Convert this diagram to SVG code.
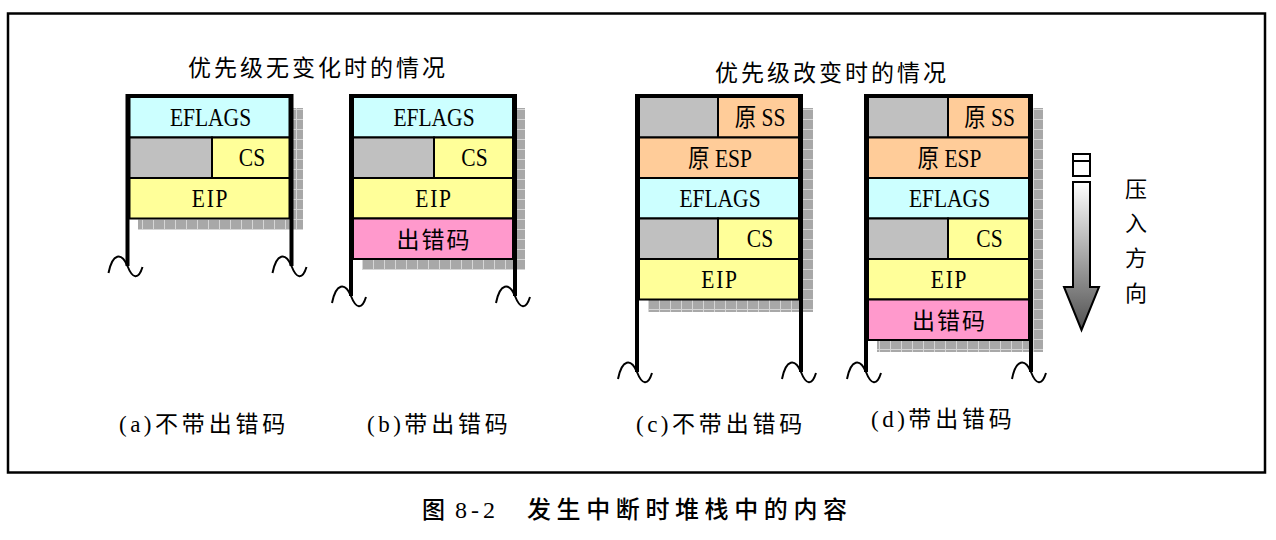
<svg xmlns="http://www.w3.org/2000/svg" width="1276" height="540" viewBox="0 0 1276 540">
<defs>
<pattern id="sh" width="11" height="10" patternUnits="userSpaceOnUse">
<rect width="11" height="10" fill="#A8A8A8"/>
<path d="M10.5,0V10M0,9.5H11" stroke="#D6D6D6" stroke-width="1"/>
</pattern>
<linearGradient id="ag" x1="0" y1="0" x2="0" y2="1">
<stop offset="0" stop-color="#FFFFFF"/>
<stop offset="1" stop-color="#505050"/>
</linearGradient>
<path id="wave" d="M-19,7 C-15,-13 -6,-14 0,0 C5,13 11,14 15,1" fill="none" stroke="#000" stroke-width="2"/>
<style>
.cell{stroke:#000;stroke-width:2}
.cy{fill:#CCFFFF}.yl{fill:#FFFF99}.gr{fill:#C0C0C0}.or{fill:#FFCC99}.pk{fill:#FF99CC}
.wall{fill:none;stroke:#000;stroke-width:4}
.shadow{fill:url(#sh)}
.t{font-family:"Liberation Serif","Noto Sans CJK SC",serif;font-size:25px;fill:#000;text-anchor:middle}
.zh{font-family:"Noto Sans CJK SC",sans-serif;font-size:23px;fill:#000;text-anchor:middle;letter-spacing:2px}
.vt{font-family:"Noto Sans CJK SC",sans-serif;font-size:22px;fill:#000;text-anchor:middle}
.title{font-family:"Noto Sans CJK SC",sans-serif;font-size:23px;fill:#000;letter-spacing:3px}
.cap{font-family:"Liberation Serif","Noto Sans CJK SC",sans-serif;font-size:23px;fill:#000}
.cap .p{letter-spacing:3.5px}
.cap .z{letter-spacing:3.8px}
</style>
</defs>
<rect x="0" y="0" width="1276" height="540" fill="#FFFFFF"/>
<rect x="8" y="13.5" width="1257" height="459" fill="none" stroke="#000" stroke-width="2.5"/>

<text class="title" x="188" y="75.5">优先级无变化时的情况</text>
<text class="title" x="715" y="80.5">优先级改变时的情况</text>

<g id="stack-a">
<rect class="shadow" x="138" y="108" width="165" height="122"/>
<rect class="cell cy" x="129.5" y="97" width="160" height="40.5"/>
<rect class="cell gr" x="129.5" y="137.5" width="82.5" height="40.5"/>
<rect class="cell yl" x="212" y="137.5" width="77.5" height="40.5"/>
<rect class="cell yl" x="129.5" y="178" width="160" height="40.5"/>
<path class="wall" d="M127.5,266 V96 H291.5 V266"/>
<use href="#wave" x="127.5" y="266"/>
<use href="#wave" x="291.5" y="266"/>
<text class="t" transform="translate(210.5,125.5) scale(0.86,1)">EFLAGS</text>
<text class="t" transform="translate(252,166) scale(0.86,1)">CS</text>
<text class="t" transform="translate(210.5,206.5) scale(0.86,1)" letter-spacing="2">EIP</text>
</g>

<g id="stack-b">
<rect class="shadow" x="362" y="108" width="163" height="162"/>
<rect class="cell cy" x="353" y="97" width="160" height="40.5"/>
<rect class="cell gr" x="353" y="137.5" width="81" height="40.5"/>
<rect class="cell yl" x="434" y="137.5" width="79" height="40.5"/>
<rect class="cell yl" x="353" y="178" width="160" height="40.5"/>
<rect class="cell pk" x="353" y="218.5" width="160" height="40.5"/>
<path class="wall" d="M351,296 V96 H515 V296"/>
<use href="#wave" x="351" y="296"/>
<use href="#wave" x="515" y="296"/>
<text class="t" transform="translate(434,125.5) scale(0.86,1)">EFLAGS</text>
<text class="t" transform="translate(474.5,166) scale(0.86,1)">CS</text>
<text class="t" transform="translate(434,206.5) scale(0.86,1)" letter-spacing="2">EIP</text>
<text class="zh" x="434" y="247.5">出错码</text>
</g>

<g id="stack-c">
<rect class="shadow" x="648" y="108" width="165" height="204"/>
<rect class="cell gr" x="639" y="97" width="79" height="40.5"/>
<rect class="cell or" x="718" y="97" width="81" height="40.5"/>
<rect class="cell or" x="639" y="137.5" width="160" height="40.5"/>
<rect class="cell cy" x="639" y="178" width="160" height="40.5"/>
<rect class="cell gr" x="639" y="218.5" width="79" height="40.5"/>
<rect class="cell yl" x="718" y="218.5" width="81" height="40.5"/>
<rect class="cell yl" x="639" y="259" width="160" height="40.5"/>
<path class="wall" d="M637,372 V96 H801 V372"/>
<use href="#wave" x="637" y="372"/>
<use href="#wave" x="801" y="372"/>
<text class="t" transform="translate(760,126) scale(0.86,1)">原 SS</text>
<text class="t" transform="translate(720,166.5) scale(0.86,1)">原 ESP</text>
<text class="t" transform="translate(720,206.5) scale(0.86,1)">EFLAGS</text>
<text class="t" transform="translate(760,247) scale(0.86,1)">CS</text>
<text class="t" transform="translate(720,287.5) scale(0.86,1)" letter-spacing="2">EIP</text>
</g>

<g id="stack-d">
<rect class="shadow" x="877" y="108" width="166" height="244"/>
<rect class="cell gr" x="868" y="97" width="80" height="40.5"/>
<rect class="cell or" x="948" y="97" width="81" height="40.5"/>
<rect class="cell or" x="868" y="137.5" width="161" height="40.5"/>
<rect class="cell cy" x="868" y="178" width="161" height="40.5"/>
<rect class="cell gr" x="868" y="218.5" width="80" height="40.5"/>
<rect class="cell yl" x="948" y="218.5" width="81" height="40.5"/>
<rect class="cell yl" x="868" y="259" width="161" height="40.5"/>
<rect class="cell pk" x="868" y="299.5" width="161" height="40.5"/>
<path class="wall" d="M866,372 V96 H1031 V372"/>
<use href="#wave" x="866" y="372"/>
<use href="#wave" x="1031" y="372"/>
<text class="t" transform="translate(989.5,126) scale(0.86,1)">原 SS</text>
<text class="t" transform="translate(949.5,166.5) scale(0.86,1)">原 ESP</text>
<text class="t" transform="translate(949.5,206.5) scale(0.86,1)">EFLAGS</text>
<text class="t" transform="translate(989.5,247) scale(0.86,1)">CS</text>
<text class="t" transform="translate(949.5,287.5) scale(0.86,1)" letter-spacing="2">EIP</text>
<text class="zh" x="949.5" y="328.5">出错码</text>
</g>

<g id="push-arrow">
<rect x="1073" y="154" width="17" height="22" fill="#FFFFFF" stroke="#000" stroke-width="2"/>
<line x1="1073" y1="161" x2="1090" y2="161" stroke="#000" stroke-width="2"/>
<path d="M1073,182 H1090 V287 H1099 L1081.5,330 L1064,287 H1073 Z" fill="url(#ag)" stroke="#000" stroke-width="2" stroke-linejoin="miter"/>
<text class="vt" x="1136" y="196.5">压</text>
<text class="vt" x="1136" y="231">入</text>
<text class="vt" x="1136" y="265.5">方</text>
<text class="vt" x="1136" y="300.5">向</text>
</g>

<text class="cap" x="119" y="432"><tspan class="p">(a)</tspan><tspan class="z">不带出错码</tspan></text>
<text class="cap" x="367" y="432"><tspan class="p">(b)</tspan><tspan class="z">带出错码</tspan></text>
<text class="cap" x="636" y="432"><tspan class="p">(c)</tspan><tspan class="z">不带出错码</tspan></text>
<text class="cap" x="871" y="427"><tspan class="p">(d)</tspan><tspan class="z">带出错码</tspan></text>

<g id="caption">
<text x="422" y="518" font-family="Noto Sans CJK SC, sans-serif" font-size="23" font-weight="500">图</text>
<text x="455" y="518" font-family="Liberation Serif, serif" font-size="24" letter-spacing="4">8-2</text>
<text x="527" y="518" font-family="Noto Sans CJK SC, sans-serif" font-size="24" font-weight="500" letter-spacing="5.6">发生中断时堆栈中的内容</text>
</g>
</svg>
